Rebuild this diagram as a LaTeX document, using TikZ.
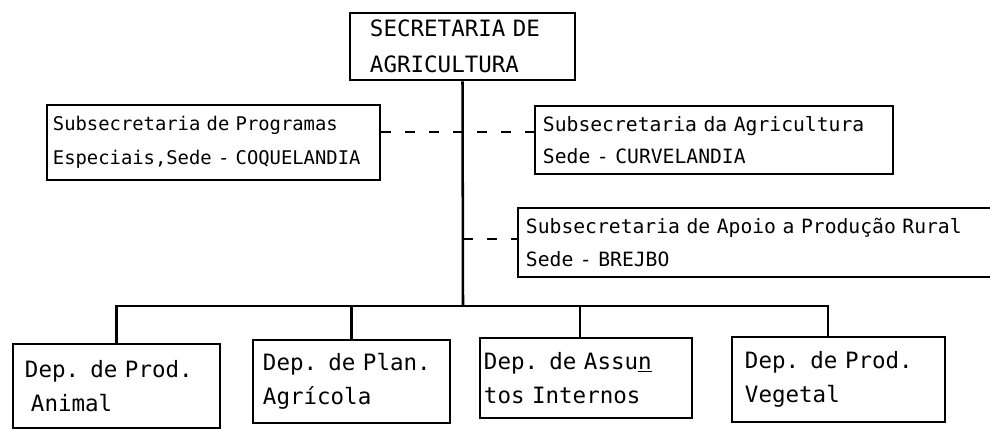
\documentclass[tikz,border=0pt]{standalone}
\usepackage{fontspec}
\newfontfamily\typefont{DejaVu Sans Mono}
\usetikzlibrary{calc}

\tikzset{
  box/.style={draw, line width=1.8pt, align=left, inner ysep=0pt},
  subfont/.style={font=\typefont\fontsize{14}{23}\selectfont},
  depfont/.style={font=\typefont\fontsize{16}{24}\selectfont},
  link/.style={line width=1.8pt},
  dashlink/.style={line width=1.8pt, dash pattern=on 0.25cm off 0.35cm}
}

\begin{document}
\begin{tikzpicture}[x=0.025cm,y=-0.025cm]

\useasboundingbox (0,0) rectangle (990,430);

% secretaria
\node[box, depfont, text width=4.625cm, inner xsep=0.5cm, minimum height=1.675cm]
  (sec) at (462.5,46.5) {SECRETARIA DE\\[2pt]AGRICULTURA};

% subsecretarias
\node[box, font=\typefont\fontsize{13.4}{24}\selectfont, text width=8.025cm, inner xsep=0.15cm, minimum height=1.875cm]
  (prog) at (213.5,142.5) {Subsecretaria de Programas\\Especiais,Sede - COQUELANDIA};
\node[box, subfont, text width=8.55cm, inner xsep=0.2cm, minimum height=1.7cm]
  (agri) at (714,140) {Subsecretaria da Agricultura\\Sede - CURVELANDIA};
\node[box, subfont, text width=11.7cm, inner xsep=0.2cm, minimum height=1.725cm]
  (apoio) at (760,242.5) {Subsecretaria de Apoio a Produção Rural\\Sede - BREJBO};

% departamentos
\node[box, depfont, text width=4.575cm, inner xsep=0.3cm, minimum height=2.1cm]
  (anim) at (116.5,386) {Dep. de Prod.\\\hspace{0.15cm}Animal};
\node[box, depfont, text width=4.425cm, inner xsep=0.25cm, minimum height=2.075cm]
  (plan) at (351.5,381.5) {Dep. de Plan.\\Agrícola};
\node[box, depfont, text width=5.1cm, inner xsep=0.1cm, minimum height=2.0cm]
  (assu) at (586,378) {Dep. de Assu\underline{n}\\tos Internos};
\node[box, depfont, text width=4.675cm, inner xsep=0.325cm, minimum height=2.125cm]
  (veg) at (838.5,379.5) {Dep. de Prod.\\Vegetal};

\coordinate (bar) at (463,306);
\coordinate (vdrop) at (828,306);
\coordinate (j1) at (463,132);
\coordinate (j2) at (463,239);

% linhas
\draw[link] (sec.south) -- (bar);
\draw[link] (anim.north) |- (vdrop) -- (vdrop |- veg.north);
\draw[link] (plan.north) -- (plan.north |- bar);
\draw[link] (580,306) -- (580,0 |- assu.north);

\draw[dashlink] (j1 -| prog.east) -- (j1 -| agri.west);
\draw[dashlink] (j2) -- (j2 -| apoio.west);

\end{tikzpicture}
\end{document}
